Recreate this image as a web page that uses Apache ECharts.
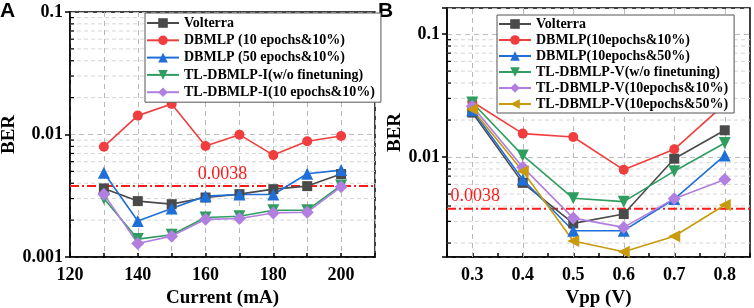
<!DOCTYPE html>
<html>
<head>
<meta charset="utf-8">
<script src="https://cdn.jsdelivr.net/npm/echarts@6/dist/echarts.min.js"></script>
<style>
  html, body { margin: 0; padding: 0; background: #fff; }
  #chart { width: 754px; height: 308px; }
</style>
</head>
<body>
<div id="chart"></div>
<script>
// panel A: BER against bias current
var currentA = [130, 140, 150, 160, 170, 180, 190, 200];
var volterraA = [0.00363, 0.00286, 0.0027, 0.00306, 0.00326, 0.00358, 0.00379, 0.00475];
var dbmlp10A = [0.00795, 0.01426, 0.01778, 0.00805, 0.00997, 0.00679, 0.0088, 0.00973];
var dbmlp50A = [0.00487, 0.00197, 0.00249, 0.00314, 0.00324, 0.00324, 0.00478, 0.00512];
var tlNoFtA = [0.0030, 0.0014, 0.00152, 0.0021, 0.00215, 0.00241, 0.00241, 0.00384];
var tl10A = [0.00326, 0.00129, 0.00148, 0.00203, 0.00206, 0.00229, 0.00232, 0.00374];

// panel B: BER against Vpp
var vppB = [0.3, 0.4, 0.5, 0.6, 0.7, 0.8];
var volterraB = [0.0230, 0.00617, 0.00289, 0.00344, 0.0097, 0.01652];
var dbmlp10B = [0.02817, 0.01552, 0.01457, 0.00788, 0.01156, 0.02694];
var dbmlp50B = [0.02406, 0.00657, 0.00252, 0.00252, 0.00456, 0.01032];
var tlNoFtB = [0.0278, 0.01032, 0.00462, 0.00434, 0.00768, 0.01302];
var tl10B = [0.02596, 0.00828, 0.00319, 0.00268, 0.00459, 0.00657];
var tl50B = [0.0245, 0.00768, 0.00208, 0.0017, 0.00227, 0.00408];

var fecLimit = 0.0038;
var rangeA = { x: [120, 210], y: [0.001, 0.1] };
var rangeB = { x: [0.25, 0.85], y: [0.00154, 0.163] };
var legendA = ['Volterra', 'DBMLP (10 epochs&10%)', 'DBMLP (50 epochs&10%)', 'TL-DBMLP-I(w/o finetuning)', 'TL-DBMLP-I(10 epochs&10%)'];
var legendB = ['Volterra ', 'DBMLP(10epochs&10%)', 'DBMLP(10epochs&50%)', 'TL-DBMLP-V(w/o finetuning)', 'TL-DBMLP-V(10epochs&10%)', 'TL-DBMLP-V(10epochs&50%)'];

var serif = '"Liberation Serif", "Times New Roman", serif';
var colors = {
	black: '#4a4a4a',
	red: '#f03e3e',
	blue: '#1f6fd8',
	green: '#2f9d5f',
	purple: '#b07fe0',
	gold: '#c99a0c'
};

function pairs(xs, ys) {
	return xs.map(function (x, i) { return [x, ys[i]] })
}

function lineSeries(name, xs, ys, idx, color, symbol, rotate, size) {
	return {
		name: name,
		type: 'line',
		xAxisIndex: idx,
		yAxisIndex: idx,
		data: pairs(xs, ys),
		symbol: symbol,
		symbolRotate: rotate || 0,
		symbolSize: size || 10,
		lineStyle: { color: color, width: 1.6 },
		itemStyle: { color: color },
		z: 3
	}
}

// 2..9 of each decade inside the y range
function minorValues(lo, hi) {
	var out = []
	for (var d = -4; d <= 0; d++) {
		for (var k = 2; k <= 9; k++) {
			var v = k * Math.pow(10, d)
			if (v > lo && v < hi) out.push(v)
		}
	}
	return out
}

// light dashed minor grid + short inward minor ticks on the log axis
function minorGrid(idx, range) {
	return {
		type: 'custom',
		xAxisIndex: idx,
		yAxisIndex: idx,
		silent: true,
		z: 1,
		data: minorValues(range.y[0], range.y[1]).map(function (v) { return [range.x[0], v] }),
		renderItem: function (params, api) {
			var v = api.value(1)
			var p1 = api.coord([range.x[0], v])
			var p2 = api.coord([range.x[1], v])
			return {
				type: 'group',
				children: [
					{ type: 'line', shape: { x1: p1[0], y1: p1[1], x2: p2[0], y2: p2[1] }, style: { stroke: '#d6d6d6', lineDash: [4, 3], lineWidth: 1 } },
					{ type: 'line', shape: { x1: p1[0], y1: p1[1], x2: p1[0] + 4, y2: p1[1] }, style: { stroke: '#000', lineWidth: 1.2 } }
				]
			}
		}
	}
}

// red dash-dot FEC limit with its value written above
function limitLine(idx, range, labelAt, align) {
	return {
		type: 'custom',
		xAxisIndex: idx,
		yAxisIndex: idx,
		silent: true,
		z: 2,
		data: [[labelAt, fecLimit]],
		renderItem: function (params, api) {
			var v = api.value(1)
			var p1 = api.coord([range.x[0], v])
			var p2 = api.coord([range.x[1], v])
			var pl = api.coord([api.value(0), v])
			return {
				type: 'group',
				children: [
					{ type: 'line', shape: { x1: p1[0], y1: p1[1], x2: p2[0], y2: p2[1] }, style: { stroke: '#ff1a1a', lineDash: [9, 3, 2, 3], lineWidth: 2 } },
					{ type: 'text', x: pl[0], y: pl[1] - 3, style: { text: String(fecLimit), fill: '#ff1a1a', font: '18px ' + serif, align: align, verticalAlign: 'bottom' } }
				]
			}
		}
	}
}

function decadeLabel(v) {
	var l = Math.log10(v)
	if (Math.abs(l - Math.round(l)) < 1e-6) return String(+v.toPrecision(3))
	return ''
}

function yAxisOpt(idx, range, gap) {
	return {
		type: 'log',
		logBase: 10,
		gridIndex: idx,
		min: range.y[0],
		max: range.y[1],
		splitNumber: 2,
		name: 'BER',
		nameLocation: 'middle',
		nameGap: gap,
		nameTextStyle: { fontFamily: serif, fontWeight: 'bold', fontSize: 19, color: '#000' },
		axisLine: { show: true, lineStyle: { color: '#000', width: 1.5 } },
		axisTick: { show: true, inside: false, length: 5, lineStyle: { color: '#000', width: 1.5 } },
		axisLabel: { fontFamily: serif, fontWeight: 'bold', fontSize: 18, color: '#000', margin: 7, formatter: decadeLabel },
		splitLine: { show: true, lineStyle: { color: '#bdbdbd', type: [5, 4], width: 1 } }
	}
}

var legendText = { fontFamily: serif, fontWeight: 'bold', fontSize: 14, color: '#000', lineHeight: 14 }
var xName = { fontFamily: serif, fontWeight: 'bold', fontSize: 19, color: '#000' }

var seriesA = [
	lineSeries(legendA[0], currentA, volterraA, 0, colors.black, 'rect', 0, 10),
	lineSeries(legendA[1], currentA, dbmlp10A, 0, colors.red, 'circle', 0, 10),
	lineSeries(legendA[2], currentA, dbmlp50A, 0, colors.blue, 'triangle', 0, 12),
	lineSeries(legendA[3], currentA, tlNoFtA, 0, colors.green, 'triangle', 180, 12),
	lineSeries(legendA[4], currentA, tl10A, 0, colors.purple, 'diamond', 0, 13)
]

var seriesB = [
	lineSeries(legendB[0], vppB, volterraB, 1, colors.black, 'rect', 0, 10),
	lineSeries(legendB[1], vppB, dbmlp10B, 1, colors.red, 'circle', 0, 10),
	lineSeries(legendB[2], vppB, dbmlp50B, 1, colors.blue, 'triangle', 0, 12),
	lineSeries(legendB[3], vppB, tlNoFtB, 1, colors.green, 'triangle', 180, 12),
	lineSeries(legendB[4], vppB, tl10B, 1, colors.purple, 'diamond', 0, 13),
	lineSeries(legendB[5], vppB, tl50B, 1, colors.gold, 'triangle', 90, 12)
]
// vertical dashed lines at each Vpp
seriesB[0].markLine = {
	silent: true,
	symbol: ['none', 'none'],
	animation: false,
	z: 1,
	label: { show: false },
	lineStyle: { color: '#b8b8b8', type: [5, 4], width: 1 },
	data: vppB.map(function (x) { return { xAxis: x } })
}

var chart = echarts.init(document.getElementById('chart'))
var option = {
	animation: false,
	backgroundColor: '#fff',
	graphic: [
		{ type: 'text', left: 0, top: 1, style: { text: 'A', font: 'bold 21px "Liberation Sans", Arial, sans-serif', fill: '#000' } },
		{ type: 'text', left: 378, top: 1, style: { text: 'B', font: 'bold 21px "Liberation Sans", Arial, sans-serif', fill: '#000' } }
	],
	grid: [
		{ left: 70, right: 379, top: 12, bottom: 51, outerBoundsMode: 'none', show: true, borderColor: '#000', borderWidth: 1.5 },
		{ left: 447, right: 4, top: 8, bottom: 51, outerBoundsMode: 'none', show: true, borderColor: '#000', borderWidth: 1.5 }
	],
	legend: [
		{
			data: legendA, left: 145, top: 13, orient: 'vertical', itemWidth: 32, itemHeight: 12, itemGap: 3.3,
			padding: [3, 6, 3, 1], borderColor: '#555', borderWidth: 1, backgroundColor: '#fff',
			textStyle: legendText, itemTextGap: 4, z: 10
		},
		{
			data: legendB, left: 497, top: 15, orient: 'vertical', itemWidth: 32, itemHeight: 12, itemGap: 2,
			padding: [2, 6, 2, 1], borderColor: '#555', borderWidth: 1, backgroundColor: '#fff',
			textStyle: legendText, itemTextGap: 2, z: 10,
			formatter: function (n) { return n.trim() }
		}
	],
	xAxis: [
		{
			type: 'value', gridIndex: 0, min: rangeA.x[0], max: rangeA.x[1], interval: 10,
			name: 'Current (mA)', nameLocation: 'middle', nameGap: 26, nameTextStyle: xName,
			axisLine: { lineStyle: { color: '#000', width: 1.5 } },
			axisTick: { inside: true, length: 4, lineStyle: { color: '#000', width: 1.5 } },
			axisLabel: {
				fontFamily: serif, fontWeight: 'bold', fontSize: 18, color: '#000', margin: 9,
				formatter: function (v) { return v % 20 === 0 ? String(v) : '' }
			},
			splitLine: { show: true, lineStyle: { color: '#b8b8b8', type: [5, 4], width: 1 } }
		},
		{
			type: 'value', gridIndex: 1, min: rangeB.x[0], max: rangeB.x[1], interval: 0.05,
			name: 'Vpp (V)', nameLocation: 'middle', nameGap: 26, nameTextStyle: xName,
			axisLine: { lineStyle: { color: '#000', width: 1.5 } },
			axisTick: { inside: true, length: 4, lineStyle: { color: '#000', width: 1.5 } },
			axisLabel: {
				fontFamily: serif, fontWeight: 'bold', fontSize: 18, color: '#000', margin: 9,
				formatter: function (v) {
					var r = Math.round(v * 100)
					return (r % 10 === 0 && r > 25 && r < 85) ? (r / 100).toFixed(1) : ''
				}
			},
			splitLine: { show: false }
		}
	],
	yAxis: [
		yAxisOpt(0, rangeA, 51),
		yAxisOpt(1, rangeB, 41)
	],
	series: [
		minorGrid(0, rangeA),
		minorGrid(1, rangeB),
		limitLine(0, rangeA, 165, 'center'),
		limitLine(1, rangeB, 0.257, 'left')
	].concat(seriesA, seriesB)
}
chart.setOption(option)
</script>
</body>
</html>
